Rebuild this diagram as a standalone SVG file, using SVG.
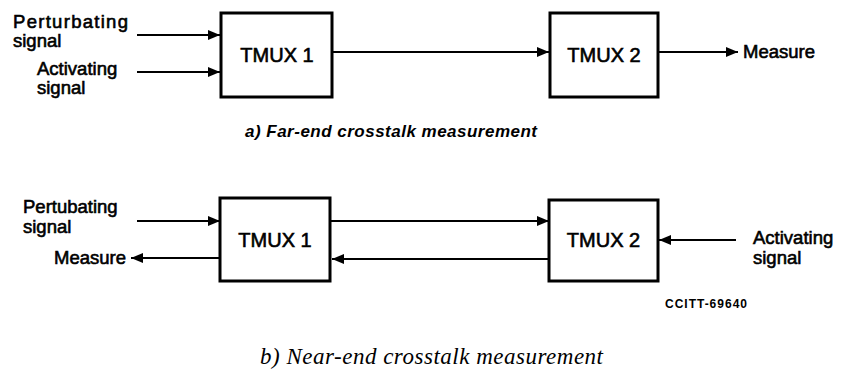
<svg xmlns="http://www.w3.org/2000/svg" width="854" height="378" viewBox="0 0 854 378">
<defs>
<style>
.box{fill:#fff;stroke:#000;stroke-width:3}
.ln{stroke:#000;stroke-width:2;fill:none}
.lbl{font-family:"Liberation Sans",Arial,sans-serif;font-size:18.5px;fill:#000;stroke:#000;stroke-width:0.6}
.tm{font-family:"Liberation Sans",Arial,sans-serif;font-size:20px;fill:#000;stroke:#000;stroke-width:0.6}
.capa{font-family:"Liberation Sans",Arial,sans-serif;font-size:17px;font-weight:bold;font-style:italic;fill:#000}
.capb{font-family:"Liberation Serif","Times New Roman",serif;font-size:23px;font-style:italic;fill:#000}
.ref{font-family:"Liberation Sans",Arial,sans-serif;font-size:12px;font-weight:bold;fill:#000}
</style>
<marker id="ah" viewBox="0 0 12 10" refX="12" refY="5" markerWidth="12" markerHeight="10" markerUnits="userSpaceOnUse" orient="auto">
<path d="M0,0 L12,5 L0,10 Z" fill="#000"/>
</marker>
</defs>
<rect width="854" height="378" fill="#fff"/>

<g id="connectors">
<line class="ln" x1="137" y1="35" x2="220" y2="35" marker-end="url(#ah)"/>
<line class="ln" x1="137" y1="72" x2="220" y2="72" marker-end="url(#ah)"/>
<line class="ln" x1="333" y1="52" x2="549" y2="52" marker-end="url(#ah)"/>
<line class="ln" x1="659" y1="52" x2="738" y2="52" marker-end="url(#ah)"/>
<line class="ln" x1="137" y1="221" x2="220" y2="221" marker-end="url(#ah)"/>
<line class="ln" x1="220" y1="258" x2="131" y2="258" marker-end="url(#ah)"/>
<line class="ln" x1="331" y1="221" x2="549" y2="221" marker-end="url(#ah)"/>
<line class="ln" x1="549" y1="259" x2="332" y2="259" marker-end="url(#ah)"/>
<line class="ln" x1="736" y1="240" x2="659" y2="240" marker-end="url(#ah)"/>
</g>

<g id="a-tmux1">
<rect class="box" x="221" y="13" width="111" height="84"/>
<text class="tm" x="277" y="62" text-anchor="middle">TMUX 1</text>
</g>
<g id="a-tmux2">
<rect class="box" x="550" y="13" width="108" height="84"/>
<text class="tm" x="604" y="62" text-anchor="middle">TMUX 2</text>
</g>
<g id="a-labels">
<text class="lbl" x="13" y="28" textLength="115">Perturbating</text>
<text class="lbl" x="13" y="47">signal</text>
<text class="lbl" x="37" y="75">Activating</text>
<text class="lbl" x="37" y="94">signal</text>
<text class="lbl" x="743" y="58">Measure</text>
<text class="capa" x="245" y="137" textLength="292">a) Far-end crosstalk measurement</text>
</g>

<g id="b-tmux1">
<rect class="box" x="220" y="198" width="110" height="83"/>
<text class="tm" x="275" y="247" text-anchor="middle">TMUX 1</text>
</g>
<g id="b-tmux2">
<rect class="box" x="549" y="200" width="109" height="81"/>
<text class="tm" x="603.5" y="247" text-anchor="middle">TMUX 2</text>
</g>
<g id="b-labels">
<text class="lbl" x="23" y="213">Pertubating</text>
<text class="lbl" x="23" y="233">signal</text>
<text class="lbl" x="126" y="264" text-anchor="end">Measure</text>
<text class="lbl" x="753" y="244">Activating</text>
<text class="lbl" x="753" y="264">signal</text>
<text class="ref" x="665" y="308" textLength="82">CCITT-69640</text>
<text class="capb" x="260" y="364" textLength="343">b) Near-end crosstalk measurement</text>
</g>
</svg>
